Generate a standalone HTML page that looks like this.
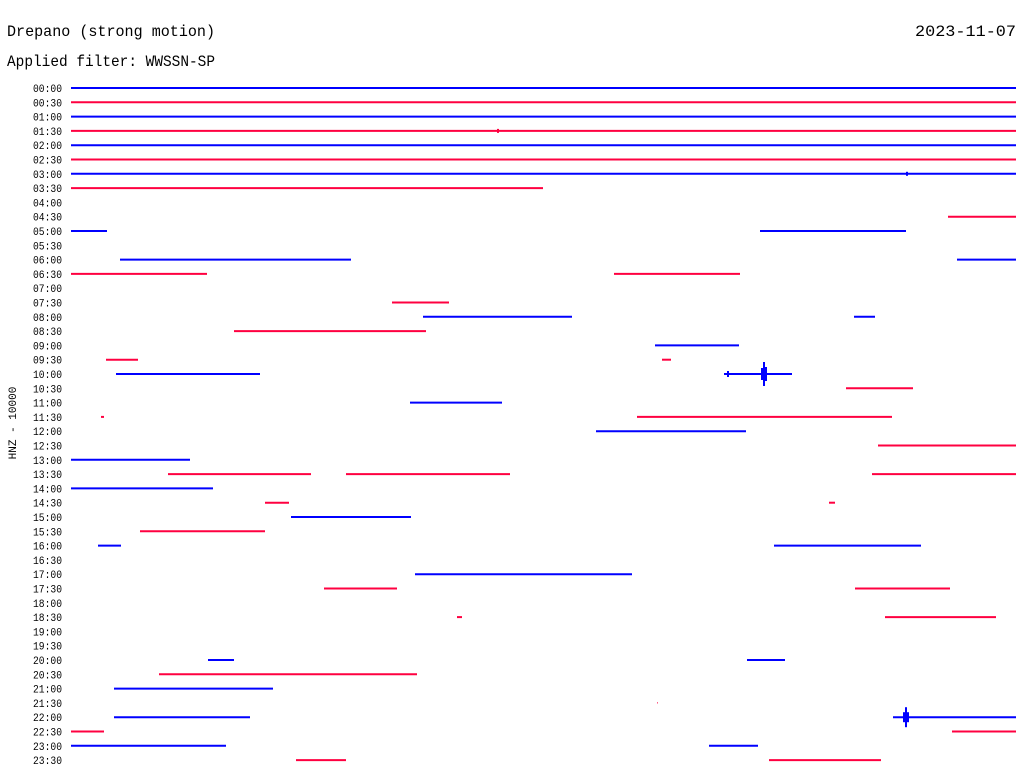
<!DOCTYPE html>
<html><head><meta charset="utf-8"><style>
html,body{margin:0;padding:0;background:#fff;}
svg{display:block;}
text{font-family:"Liberation Mono",monospace;fill:#000;}
</style></head><body>
<svg width="1024" height="780" viewBox="0 0 1024 780" xmlns="http://www.w3.org/2000/svg">
<text x="7" y="36" font-size="16" textLength="208" lengthAdjust="spacingAndGlyphs">Drepano (strong motion)</text>
<text x="915" y="36" font-size="16" textLength="101" lengthAdjust="spacingAndGlyphs">2023-11-07</text>
<text x="7" y="66" font-size="16" textLength="208" lengthAdjust="spacingAndGlyphs">Applied filter: WWSSN-SP</text>
<text transform="translate(16,423) rotate(-90)" font-size="11" text-anchor="middle">HNZ - 10000</text>
<g id="labels" font-size="11"></g>
<g id="segs" stroke-width="2"></g>
<script>
var L=document.getElementById('labels'),S=document.getElementById('segs'),ns="http://www.w3.org/2000/svg";
for(var i=0;i<48;i++){var y=88+i*14.3;var t=document.createElementNS(ns,'text');t.setAttribute('x',33);t.setAttribute('y',(y+4).toFixed(1));t.setAttribute('textLength',29);t.setAttribute('lengthAdjust','spacingAndGlyphs');var h=Math.floor(i/2);t.textContent=(h<10?'0':'')+h+':'+(i%2?'30':'00');L.appendChild(t);}
var d={0:[[71,1016]],1:[[71,1016]],2:[[71,1016]],3:[[71,1016]],4:[[71,1016]],5:[[71,1016]],6:[[71,1016]],7:[[71,543]],9:[[948,1016]],10:[[71,107],[760,906]],12:[[120,351],[957,1016]],13:[[71,207],[614,740]],15:[[392,449]],16:[[423,572],[854,875]],17:[[234,426]],18:[[655,739]],19:[[106,138],[662,671]],20:[[116,260],[724,792]],21:[[846,913]],22:[[410,502]],23:[[101,104],[637,892]],24:[[596,746]],25:[[878,1016]],26:[[71,190]],27:[[168,311],[346,510],[872,1016]],28:[[71,213]],29:[[265,289],[829,835]],30:[[291,411]],31:[[140,265]],32:[[98,121],[774,921]],34:[[415,632]],35:[[324,397],[855,950]],37:[[457,462],[885,996]],40:[[208,234],[747,785]],41:[[159,417]],42:[[114,273]],43:[[657,658]],44:[[114,250],[893,1016]],45:[[71,104],[952,1016]],46:[[71,226],[709,758]],47:[[296,346],[769,881]]};
for(var k in d){var i=+k,y=88+i*14.3,c=i%2?'#ff0040':'#0000ff';d[k].forEach(function(s){var l=document.createElementNS(ns,'line');l.setAttribute('x1',s[0]);l.setAttribute('x2',s[1]);l.setAttribute('y1',y.toFixed(1));l.setAttribute('y2',y.toFixed(1));l.setAttribute('stroke',c);if(i==43)l.setAttribute('stroke-width',1);S.appendChild(l);});}
function spike(x,y,h,c){var l=document.createElementNS(ns,'line');l.setAttribute('x1',x);l.setAttribute('x2',x);l.setAttribute('y1',y-h);l.setAttribute('y2',y+h);l.setAttribute('stroke',c);S.appendChild(l);}
var y20=88+20*14.3;spike(764,y20,12,'#0000ff');spike(766,y20,7,'#0000ff');spike(762,y20,6,'#0000ff');spike(728,y20,3,'#0000ff');
var y44=88+44*14.3;spike(906,y44,10,'#0000ff');spike(904,y44,5,'#0000ff');spike(908,y44,5,'#0000ff');
spike(907,88+6*14.3,2,'#0000ff');spike(498,88+3*14.3,2,'#ff0040');
</script>
</svg>
</body></html>
